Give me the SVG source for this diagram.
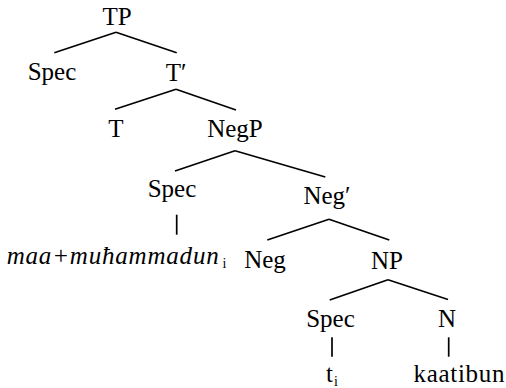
<svg xmlns="http://www.w3.org/2000/svg" width="506" height="388" viewBox="0 0 506 388">
<style>
.e line{stroke:#000;stroke-width:1.7;stroke-linecap:butt}
</style>
<rect width="506" height="388" fill="#fff"/>
<g class="e" id="edges">
<line x1="116" y1="32.3" x2="54.3" y2="52.7"/>
<line x1="116" y1="32.3" x2="176.7" y2="52.7"/>
<line x1="176" y1="89.3" x2="115" y2="109.3"/>
<line x1="176" y1="89.3" x2="236" y2="110"/>
<line x1="235" y1="150.7" x2="175" y2="171"/>
<line x1="235" y1="150.7" x2="325.3" y2="177"/>
<line x1="176.7" y1="214.7" x2="176.7" y2="234.7"/>
<line x1="329" y1="219.3" x2="267.3" y2="240"/>
<line x1="329" y1="219.3" x2="389.3" y2="240"/>
<line x1="388" y1="279.7" x2="329.7" y2="300"/>
<line x1="388" y1="279.7" x2="448" y2="299.5"/>
<line x1="332" y1="337.3" x2="332" y2="356.7"/>
<line x1="448.7" y1="337.3" x2="448.7" y2="356.7"/>
</g>
<g font-family="Liberation Serif, Times New Roman, serif" font-size="25" fill="#000" text-anchor="middle">
<g id="n-TP"><text x="117" y="25">TP</text></g>
<g id="n-Spec1"><text x="52" y="80">Spec</text></g>
<g id="n-Tbar"><text x="176" y="81">T′</text></g>
<g id="n-T"><text x="116" y="137">T</text></g>
<g id="n-NegP"><text x="235" y="137">NegP</text></g>
<g id="n-Spec2"><text x="172" y="197">Spec</text></g>
<g id="n-maa"><text x="6.7" y="264" font-style="italic" text-anchor="start" textLength="212" lengthAdjust="spacing">maa+muħammadun</text><text x="222.5" y="268" font-size="14" text-anchor="start">i</text></g>
<g id="n-Negbar"><text x="327" y="204">Neg′</text></g>
<g id="n-Neg"><text x="265" y="268">Neg</text></g>
<g id="n-NP"><text x="387" y="269">NP</text></g>
<g id="n-Spec3"><text x="330.5" y="327">Spec</text></g>
<g id="n-N"><text x="447" y="327">N</text></g>
<g id="n-t"><text x="326" y="382" text-anchor="start">t<tspan font-size="14" dy="4" dx="1">i</tspan></text></g>
<g id="n-kaatibun"><text x="413.5" y="382" text-anchor="start" textLength="91" lengthAdjust="spacing">kaatibun</text></g>
</g>
</svg>
